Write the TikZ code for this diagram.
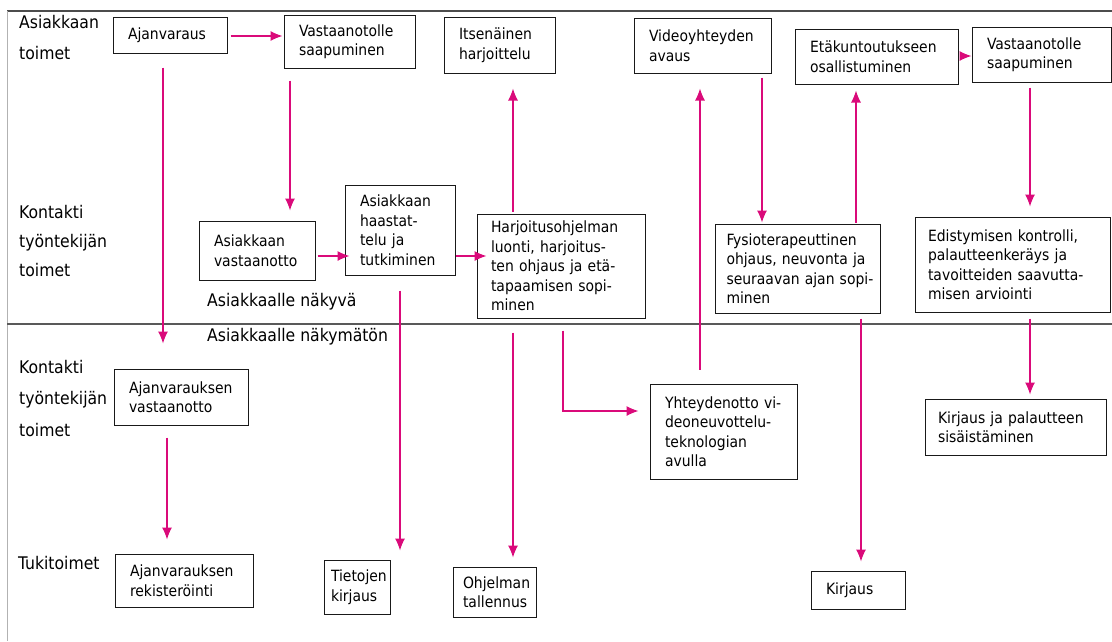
\documentclass[tikz,border=0pt]{standalone}
\usepackage{fontspec}
\setmainfont{DejaVu Sans Condensed}
\usetikzlibrary{arrows.meta}
\definecolor{pinkline}{RGB}{218,10,122}
\newcommand{\boxfont}{\fontsize{15.5}{19.5}\selectfont}
\newcommand{\lanefont}{\fontsize{17.4}{29}\selectfont}

\begin{document}
\begin{tikzpicture}[x=1pt,y=-1pt,
    box/.style={draw=black!90, line width=1pt, inner xsep=15pt, inner ysep=4pt, align=left, font=\boxfont},
    lane/.style={anchor=west, inner sep=0pt, align=left, font=\lanefont},
    arr/.style={draw=pinkline, line width=1.1pt, -{Latex[length=12pt,width=10pt]}}]
        \useasboundingbox (0,0) rectangle (1112,641);

        % frame lines
        \draw[black!70, line width=1.2pt] (7,11) -- (1112,11);
        \draw[black!30, line width=1pt] (7,11) -- (7,641);
        \draw[black!65, line width=1.2pt] (7,324) -- (1112,324);

        % lane labels
        \node(lane1) at (19,37.5) [lane]{Asiakkaan\\[2pt]toimet};
        \node(lane2) at (19,241) [lane]{Kontakti\\työntekijän\\toimet};
        \node(lane3) at (19,399) [lane]{Kontakti\\[2pt]työntekijän\\[3pt]toimet};
        \node(lane4) at (18,563) [lane]{Tukitoimet};
        \node(vis) at (207,302) [lane]{Asiakkaalle näkyvä};
        \node(invis) at (207,337) [lane]{Asiakkaalle näkymätön};

        % boxes
        \node(ajv) at (170,35) [box, text width=84pt, minimum height=36pt]{Ajanvaraus};
        \node(vs1) at (349.5,41.5) [box, text width=101pt, minimum height=53pt]{Vastaanotolle\\saapuminen};
        \node(its) at (499.5,45) [box, text width=81pt, minimum height=56pt]{Itsenäinen\\harjoittelu};
        \node(vid) at (702.5,45.5) [box, text width=107pt, minimum height=55pt]{Videoyhteyden\\avaus};
        \node(eta) at (876.5,56.5) [box, text width=133pt, minimum height=55pt]{Etäkuntoutukseen\\osallistuminen};
        \node(vs2) at (1041.5,54.5) [box, text width=109pt, minimum height=55pt]{Vastaanotolle\\saapuminen};

        \node(asv) at (257,250.5) [box, text width=86pt, minimum height=59pt]{Asiakkaan\\vastaanotto};
        \node(haa) at (400,230) [box, text width=80pt, minimum height=90pt]{Asiakkaan\\haastat-\\telu ja\\tutkiminen};
        \node(hoh) at (561,266) [box, text width=140pt, inner xsep=14pt, minimum height=104pt]{Harjoitusohjelman\\luonti, harjoitus-\\ten ohjaus ja etä-\\tapaamisen sopi-\\minen};
        \node(fys) at (797.5,268.5) [box, text width=142pt, inner xsep=11.5pt, minimum height=89pt]{Fysioterapeuttinen\\ohjaus, neuvonta ja\\\mbox{seuraavan ajan sopi-}\\minen};
        \node(edi) at (1012.5,264.5) [box, text width=169pt, inner xsep=13pt, minimum height=95pt]{Edistymisen kontrolli,\\palautteenkeräys ja\\tavoitteiden saavutta-\\misen arviointi};

        \node(ajvv) at (181,397) [box, text width=104pt, minimum height=56pt]{Ajanvarauksen\\vastaanotto};
        \node(yht) at (723.5,431.5) [box, text width=117pt, minimum height=95pt]{Yhteydenotto vi-\\deoneuvottelu-\\teknologian\\avulla};
        \node(kpa) at (1015.5,427) [box, text width=155pt, inner xsep=13pt, minimum height=56pt]{Kirjaus ja palautteen\\sisäistäminen};

        \node(ajr) at (184,580.5) [box, text width=108pt, minimum height=53pt]{Ajanvarauksen\\rekisteröinti};
        \node(tkir) at (357,587) [box, inner xsep=7pt, text width=52pt, minimum height=54pt]{Tietojen\\kirjaus};
        \node(otal) at (494.5,592) [box, inner xsep=10pt, text width=63pt, minimum height=50pt]{Ohjelman\\tallennus};
        \node(kir) at (858,590) [box, text width=64pt, minimum height=38pt]{Kirjaus};

        % arrows
        \draw[arr, shorten <=3pt, shorten >=1pt] (ajv.east |- 0,36) -- (vs1.west |- 0,36);
        \draw[arr, shorten <=14pt, shorten >=25pt] (ajv.south -| 163,0) -- (ajvv.north -| 163,0);
        \draw[arr, shorten <=12pt, shorten >=10pt] (vs1.south -| 290,0) -- (asv.north -| 290,0);
        \draw[arr, shorten <=2pt, shorten >=-5pt] (asv.east |- 0,256) -- (haa.west |- 0,256);
        \draw[arr, shorten >=-10pt] (haa.east |- 0,256) -- (hoh.west |- 0,256);
        \draw[arr, shorten <=2pt, shorten >=15pt] (hoh.north -| 513,0) -- (its.south -| 513,0);
        \draw[arr, shorten <=15pt, shorten >=9pt] (haa.south -| 400,0) -- (tkir.north -| 400,0);
        \draw[arr, shorten <=14pt, shorten >=9pt] (hoh.south -| 513,0) -- (otal.north -| 513,0);
        \draw[arr, shorten <=12pt, shorten >=11pt] (hoh.south -| 563,0) |- (yht.west |- 0,411);
        \draw[arr, shorten <=14pt, shorten >=15pt] (yht.north -| 700,0) -- (vid.south -| 700,0);
        \draw[arr, shorten <=4pt, shorten >=1pt] (vid.south -| 762,0) -- (fys.north -| 762,0);
        \draw[arr, shorten <=1pt, shorten >=6pt] (fys.north -| 856,0) -- (eta.south -| 856,0);
        \draw[arr, shorten <=3pt] (eta.east |- 0,56) -- (vs2.west |- 0,56);
        \draw[arr, shorten <=5pt, shorten >=10pt] (vs2.south -| 1030,0) -- (edi.north -| 1030,0);
        \draw[arr, shorten <=6pt, shorten >=4pt] (edi.south -| 1030,0) -- (kpa.north -| 1030,0);
        \draw[arr, shorten <=5pt, shorten >=9pt] (fys.south -| 861,0) -- (kir.north -| 861,0);
        \draw[arr, shorten <=12pt, shorten >=14pt] (ajvv.south -| 167,0) -- (ajr.north -| 167,0);

    \end{tikzpicture}
\end{document}
